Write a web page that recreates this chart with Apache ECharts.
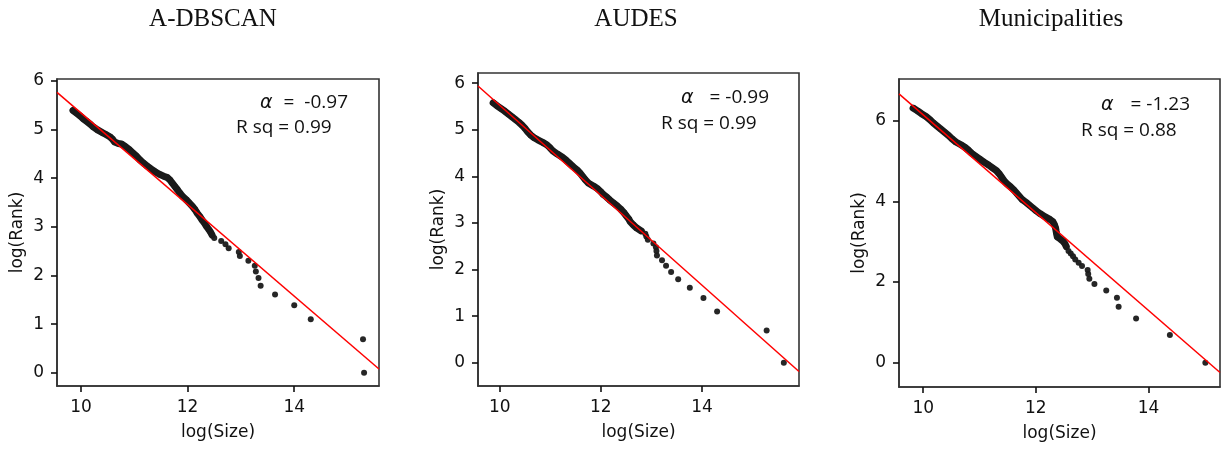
<!DOCTYPE html>
<html><head><meta charset="utf-8">
<script src="https://cdn.jsdelivr.net/npm/echarts@6/dist/echarts.min.js"></script>
<style>html,body{margin:0;padding:0;background:#fff}#c{width:1225px;height:452px}</style>
</head><body><div id="c"></div>
<script>
const titles = ['A-DBSCAN', 'AUDES', 'Municipalities'];
const alphaTexts = ['=  -0.97', '= -0.99', '= -1.23'];
const rsqTexts = ['R sq = 0.99', 'R sq = 0.99', 'R sq = 0.88'];
const xTickValues = [10, 12, 14];
const yTickValues1 = [0, 1, 2, 3, 4, 5, 6];
const yTickValues2 = [0, 1, 2, 3, 4, 5, 6];
const yTickValues3 = [0, 2, 4, 6];

// A-DBSCAN
const dbscanDenseSize = [9.85,9.92,9.99,10.04,10.11,10.18,10.23,10.31,10.39,10.46,10.54,10.59,10.63,10.70,10.76,10.83,10.91,10.97,11.04,11.10,11.17,11.24,11.31,11.39,11.47,11.55,11.62,11.67,11.71,11.76,11.81,11.85,11.90,11.97,12.03,12.09,12.14,12.18,12.23,12.27,12.32,12.36,12.40,12.43,12.46];
const dbscanDenseRank = [5.39,5.33,5.27,5.22,5.16,5.10,5.05,4.99,4.94,4.90,4.85,4.80,4.74,4.71,4.70,4.65,4.58,4.52,4.45,4.38,4.31,4.25,4.19,4.13,4.08,4.04,4.01,3.96,3.90,3.83,3.76,3.70,3.63,3.56,3.49,3.42,3.35,3.28,3.21,3.14,3.07,3.00,2.94,2.89,2.83];
const dbscanTailSize = [12.50,12.63,12.71,12.77,12.96,12.98,13.14,13.26,13.28,13.33,13.37,13.64,14.00,14.31,15.29,15.31];
const dbscanTailRank = [2.77,2.71,2.64,2.56,2.48,2.40,2.30,2.20,2.08,1.95,1.79,1.61,1.39,1.10,0.69,0];
const dbscanFitSize = [9.55, 15.59];
const dbscanFitRank = [5.76, 0.08];

// AUDES
const audesDenseSize = [9.87,9.94,10.02,10.10,10.17,10.24,10.31,10.38,10.44,10.50,10.55,10.61,10.68,10.76,10.85,10.93,10.99,11.05,11.14,11.24,11.31,11.38,11.45,11.53,11.59,11.64,11.69,11.75,11.86,11.94,12.00,12.05,12.12,12.18,12.25,12.32,12.39,12.45,12.50,12.55,12.58,12.64,12.71,12.80];
const audesDenseRank = [5.58,5.52,5.46,5.40,5.34,5.28,5.22,5.16,5.10,5.03,4.96,4.89,4.83,4.78,4.73,4.68,4.62,4.55,4.48,4.41,4.35,4.28,4.21,4.14,4.07,4.00,3.93,3.86,3.79,3.73,3.67,3.61,3.55,3.49,3.43,3.37,3.30,3.23,3.16,3.09,3.03,2.96,2.89,2.83];
const audesTailSize = [12.88,12.90,12.93,13.04,13.09,13.10,13.11,13.21,13.29,13.39,13.53,13.76,14.03,14.30,15.28,15.62];
const audesTailRank = [2.77,2.71,2.64,2.56,2.48,2.40,2.30,2.20,2.08,1.95,1.79,1.61,1.39,1.10,0.69,0];
const audesFitSize = [9.57, 15.92];
const audesFitRank = [5.94, -0.19];

// Municipalities
const muniDenseSize = [9.82,9.90,9.97,10.05,10.12,10.18,10.25,10.31,10.38,10.45,10.51,10.58,10.67,10.74,10.80,10.86,10.94,11.01,11.08,11.16,11.23,11.30,11.35,11.39,11.43,11.48,11.55,11.61,11.66,11.71,11.76,11.83,11.89,11.95,12.01,12.08,12.16,12.24,12.30,12.33,12.35,12.36,12.37,12.38,12.44,12.49,12.52,12.54];
const muniDenseRank = [6.31,6.24,6.17,6.10,6.02,5.94,5.86,5.79,5.71,5.63,5.55,5.47,5.40,5.34,5.27,5.19,5.11,5.04,4.97,4.90,4.83,4.76,4.68,4.60,4.52,4.44,4.36,4.28,4.20,4.12,4.04,3.97,3.90,3.83,3.76,3.69,3.62,3.56,3.50,3.42,3.34,3.26,3.19,3.12,3.06,3.00,2.94,2.88];
const muniTailSize = [12.58,12.62,12.66,12.70,12.76,12.82,12.92,12.93,12.95,13.04,13.25,13.44,13.47,13.78,14.38,15.01];
const muniTailRank = [2.77,2.71,2.64,2.56,2.48,2.40,2.30,2.20,2.08,1.95,1.79,1.61,1.39,1.10,0.69,0];
const muniFitSize = [9.57, 15.27];
const muniFitRank = [6.66, -0.24];

const zip = (a, b) => a.map((v, i) => [v, b[i]]);

const panels = [
  { dense: zip(dbscanDenseSize, dbscanDenseRank), tail: zip(dbscanTailSize, dbscanTailRank), fit: zip(dbscanFitSize, dbscanFitRank), yTicks: yTickValues1,
    grid: {left: 57, top: 79, width: 322, height: 307}, x: [9.55, 15.59], y: [-0.27, 6.035],
    titleX: 213, alphaX: 260, alphaRight: 348, alphaY: 103, rsqX: 236, rsqY: 128 },
  { dense: zip(audesDenseSize, audesDenseRank), tail: zip(audesTailSize, audesTailRank), fit: zip(audesFitSize, audesFitRank), yTicks: yTickValues2,
    grid: {left: 478, top: 73, width: 321, height: 313}, x: [9.57, 15.92], y: [-0.50, 6.22],
    titleX: 636, alphaX: 681, alphaRight: 769, alphaY: 98, rsqX: 661, rsqY: 124 },
  { dense: zip(muniDenseSize, muniDenseRank), tail: zip(muniTailSize, muniTailRank), fit: zip(muniFitSize, muniFitRank), yTicks: yTickValues3,
    grid: {left: 899, top: 79, width: 321, height: 308}, x: [9.57, 15.27], y: [-0.60, 7.03],
    titleX: 1051, alphaX: 1101, alphaRight: 1190, alphaY: 105, rsqX: 1081, rsqY: 131 }
];

const grids = [], xAxes = [], yAxes = [], series = [], graphics = [];
const axisFont = () => ({fontFamily: 'DejaVu Sans', fontSize: 17, color: '#111'});
panels.forEach((p, i) => {
  grids.push(Object.assign({show: true, borderColor: '#333', borderWidth: 1.6}, p.grid));
  xAxes.push({
    type: 'value', gridIndex: i, min: p.x[0], max: p.x[1],
    name: 'log(Size)', nameLocation: 'middle', nameGap: 38, nameTextStyle: axisFont(),
    axisLine: {show: true, onZero: false, lineStyle: {color: '#333', width: 1.6}}, splitLine: {show: false},
    axisTick: {show: true, length: 6, lineStyle: {color: '#111', width: 1.6}, customValues: xTickValues},
    axisLabel: Object.assign({margin: 13, customValues: xTickValues}, axisFont())
  });
  yAxes.push({
    type: 'value', gridIndex: i, min: p.y[0], max: p.y[1],
    name: 'log(Rank)', nameLocation: 'middle', nameGap: 31, nameTextStyle: axisFont(),
    axisLine: {show: true, onZero: false, lineStyle: {color: '#333', width: 1.6}}, splitLine: {show: false},
    axisTick: {show: true, length: 6, lineStyle: {color: '#111', width: 1.6}, customValues: p.yTicks},
    axisLabel: Object.assign({margin: 13, customValues: p.yTicks}, axisFont())
  });
  series.push({
    type: 'line', xAxisIndex: i, yAxisIndex: i, data: p.dense, symbol: 'none', silent: true,
    lineStyle: {color: '#1a1a1a', width: 7, cap: 'round', join: 'round'}, z: 2
  });
  series.push({
    type: 'scatter', xAxisIndex: i, yAxisIndex: i, data: p.dense.concat(p.tail),
    symbolSize: 6, itemStyle: {color: '#1a1a1a', opacity: 0.95}, z: 3
  });
  series.push({
    type: 'line', xAxisIndex: i, yAxisIndex: i, data: p.fit, symbol: 'none', silent: true,
    lineStyle: {color: '#ff0000', width: 1.5}, z: 4
  });
  graphics.push({type: 'text', x: p.titleX, y: 19, style: {text: titles[i], font: '25px "Liberation Serif"', fill: '#111', textAlign: 'center', textVerticalAlign: 'middle'}});
  graphics.push({type: 'text', x: p.alphaX, y: p.alphaY, style: {text: 'α', font: 'italic 19px "DejaVu Sans"', fill: '#111', textAlign: 'left', textVerticalAlign: 'middle'}});
  graphics.push({type: 'text', x: p.alphaRight, y: p.alphaY, style: {text: alphaTexts[i], font: '19px "Open Sans"', fill: '#111', textAlign: 'right', textVerticalAlign: 'middle'}});
  graphics.push({type: 'text', x: p.rsqX, y: p.rsqY, style: {text: rsqTexts[i], font: '19px "Open Sans"', fill: '#111', textAlign: 'left', textVerticalAlign: 'middle'}});
});

const chart = echarts.init(document.getElementById('c'), null, {renderer: 'canvas'});
chart.setOption({
  animation: false,
  backgroundColor: '#fff',
  grid: grids, xAxis: xAxes, yAxis: yAxes, series: series,
  graphic: graphics
});
</script>
</body></html>
